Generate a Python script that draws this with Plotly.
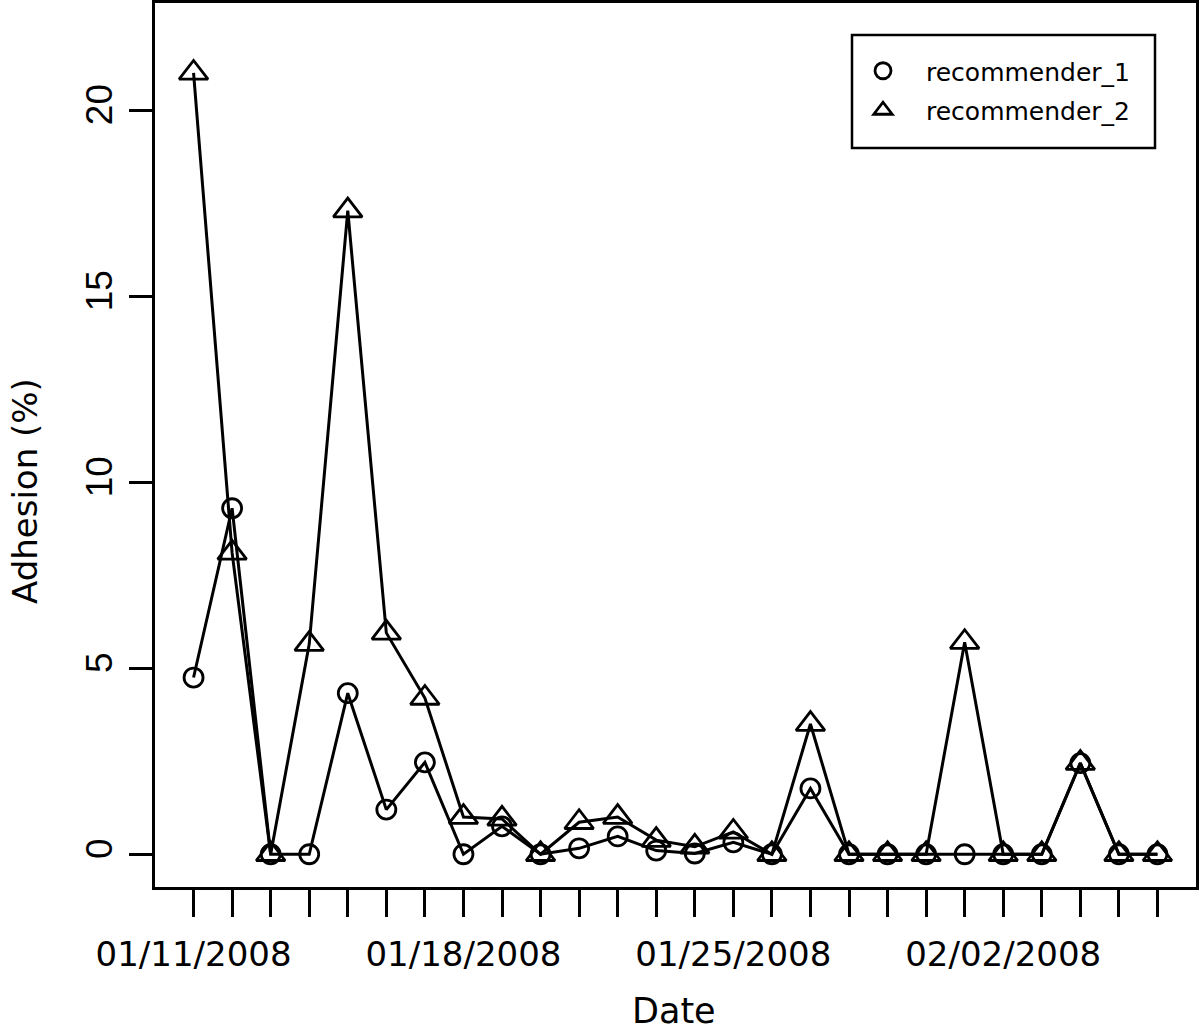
import plotly.graph_objects as go

# ---- data ----
day_index = list(range(26))
label_positions = [0, 7, 14, 21]
label_text = ["01/11/2008", "01/18/2008", "01/25/2008", "02/02/2008"]

recommender_1 = [4.75, 9.3, 0, 0, 4.33, 1.2, 2.47, 0, 0.75, 0, 0.16, 0.48, 0.1, 0.02,
                 0.32, 0, 1.77, 0, 0, 0, 0, 0, 0, 2.45, 0, 0]
recommender_2 = [21.0, 8.1, 0, 5.65, 17.3, 5.95, 4.2, 1.0, 0.95, 0, 0.86, 1.0, 0.38, 0.2,
                 0.6, 0, 3.5, 0, 0, 0, 5.7, 0, 0, 2.45, 0, 0]

y_ticks = [0, 5, 10, 15, 20]

tick_text = [label_text[label_positions.index(i)] if i in label_positions else "" for i in day_index]

BLACK = "#000000"
fig = go.Figure()

series = [
    ("recommender_1", recommender_1, "circle-open", 19),
    ("recommender_2", recommender_2, "triangle-up-open", 25),
]
for name, vals, sym, size in series:
    fig.add_trace(go.Scatter(
        x=day_index, y=vals, mode="lines", showlegend=False, legendgroup=name,
        line=dict(color=BLACK, width=3), hoverinfo="skip"))
for name, vals, sym, size in series:
    fig.add_trace(go.Scatter(
        x=day_index, y=vals, mode="markers", name=name, legendgroup=name,
        marker=dict(symbol=sym, size=size, color=BLACK, line=dict(color=BLACK, width=2.8))))

L, R, T, B = 155, 4, 3, 144
W, H = 1200, 1031
pw, ph = W - L - R, H - T - B

def px_x(p):
    return (p - L) / pw

def px_y(p):
    return (H - B - p) / ph

fig.update_layout(
    width=W, height=H, autosize=False,
    margin=dict(l=L, r=R, t=T, b=B, pad=0, autoexpand=False),
    paper_bgcolor="white", plot_bgcolor="white",
    font=dict(family="DejaVu Sans", color=BLACK),
    showlegend=True,
    legend=dict(
        x=px_x(840), y=px_y(48), xanchor="left", yanchor="top",
        bgcolor="rgba(0,0,0,0)", borderwidth=0,
        font=dict(family="DejaVu Sans", size=25, color=BLACK),
        itemwidth=76, tracegroupgap=4, traceorder="grouped",
    ),
    xaxis=dict(
        range=[-1, 26], tickmode="array", tickvals=day_index, ticktext=tick_text,
        showline=True, linecolor=BLACK, linewidth=3, mirror=True,
        ticks="outside", ticklen=27, tickwidth=2.5, tickcolor=BLACK,
        showgrid=False, zeroline=False, automargin=False,
        tickfont=dict(family="DejaVu Sans", size=34, color=BLACK),
        ticklabelstandoff=8,
    ),
    yaxis=dict(
        range=[-0.88, 22.88], tickmode="array", tickvals=y_ticks,
        showline=True, linecolor=BLACK, linewidth=3, mirror=True,
        ticks="outside", ticklen=23, tickwidth=2.5, tickcolor=BLACK,
        showgrid=False, zeroline=False, tickangle=-90, automargin=False,
        tickfont=dict(family="Liberation Sans", size=37, color=BLACK),
        ticklabelstandoff=2,
    ),
    shapes=[dict(
        type="rect", xref="paper", yref="paper",
        x0=px_x(852), x1=px_x(1155), y0=px_y(148), y1=px_y(35),
        line=dict(color=BLACK, width=2.5), fillcolor="rgba(0,0,0,0)", layer="above")],
    annotations=[
        dict(text="Adhesion (%)", xref="paper", yref="paper",
             x=px_x(25), y=px_y(491), xanchor="center", yanchor="middle",
             textangle=-90, showarrow=False,
             font=dict(family="DejaVu Sans", size=34, color=BLACK)),
        dict(text="Date", xref="paper", yref="paper",
             x=px_x(674), y=px_y(1011), xanchor="center", yanchor="middle",
             showarrow=False,
             font=dict(family="DejaVu Sans", size=35, color=BLACK)),
    ],
)

fig.write_html(
    "out.html",
    config={"displayModeBar": False},
    post_script="document.body.style.margin='0';document.body.style.padding='0';",
)
